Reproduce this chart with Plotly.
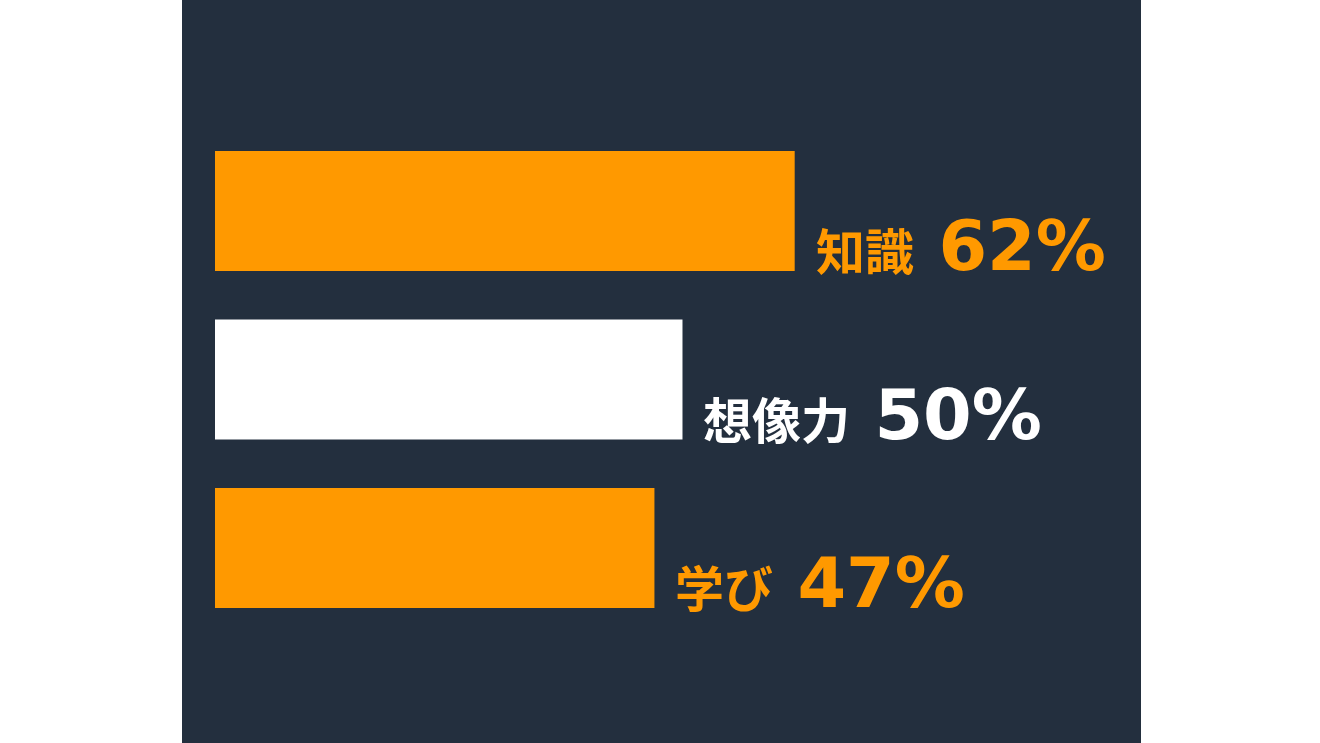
import plotly.graph_objects as go

# data
labels = ["知識", "想像力", "学び"]
values = [62, 50, 47]
bar_colors = ["#FF9900", "#FFFFFF", "#FF9900"]

navy = "#232F3E"
label_font = "Noto Sans CJK JP"
number_font = "DejaVu Sans"

pos = list(range(len(labels)))

fig = go.Figure()
fig.add_trace(go.Bar(
    x=values,
    y=pos,
    orientation="h",
    width=0.712,
    marker=dict(color=bar_colors, line=dict(width=0)),
    hoverinfo="skip",
))

# label + percentage to the right of each bar, sitting on the bar bottom
for i, (lab, val) in enumerate(zip(labels, values)):
    txt = ("<span style='font-family:{};font-size:49px'>{}</span>"
           "&nbsp;{}%").format(label_font, lab, val)
    fig.add_annotation(
        x=val,
        y=i + 0.356,
        xref="x",
        yref="y",
        text=txt,
        showarrow=False,
        xanchor="left",
        yanchor="bottom",
        xshift=19,
        yshift=-18,
        font=dict(family=number_font, size=70, color=bar_colors[i], weight="bold"),
    )

fig.update_layout(
    width=1320,
    height=743,
    margin=dict(l=182, r=179, t=0, b=0),
    paper_bgcolor="white",
    plot_bgcolor=navy,
    showlegend=False,
    xaxis=dict(range=[-3.53, 99.04], visible=False, fixedrange=True),
    yaxis=dict(range=[3.157, -1.252], visible=False, fixedrange=True),
)

# page body has a default 8px margin, drop it so the chart sits at 0,0
fig.write_html("out.html", config={"displayModeBar": False},
               post_script="document.body.style.margin='0';")
